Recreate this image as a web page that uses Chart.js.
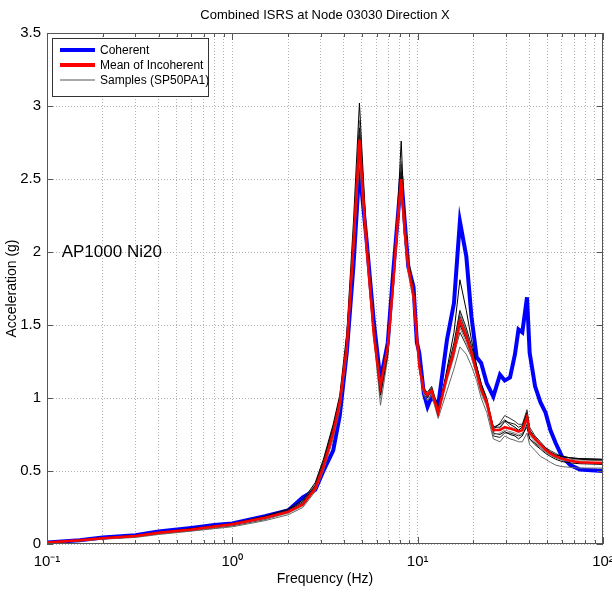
<!DOCTYPE html>
<html>
<head>
<meta charset="utf-8">
<title>Combined ISRS at Node 03030 Direction X</title>
<script src="https://cdn.jsdelivr.net/npm/chart.js@4.4.1/dist/chart.umd.min.js"></script>
<style>
  body { margin: 0; background: #fff; }
  #wrap { width: 612px; height: 593px; }
</style>
</head>
<body>
<div id="wrap"><canvas id="isrs-chart" width="612" height="593"></canvas></div>
<script>
// Frequency grid (Hz) shared by all curves
const freq = [0.1, 0.15, 0.2, 0.3, 0.4, 0.6, 0.8, 1.0, 1.5, 2.0,
    2.4, 2.8, 3.1, 3.5, 3.8, 4.15, 4.5, 4.85, 5.3, 5.8,
    6.3, 6.9, 7.4, 7.85, 8.15, 8.5, 8.9, 9.5, 9.9, 10.2,
    10.8, 11.3, 11.9, 12.9, 14.4, 15.7, 16.9, 18.3, 19.5, 20.8,
    22.0, 23.6, 25.6, 27.8, 29.5, 31.5, 33.5, 35.0, 36.7, 38.9,
    40.2, 43, 46, 49, 52, 55.6, 60, 66.6, 75, 100];

// Acceleration (g)
const coherent = [0.01, 0.025, 0.045, 0.06, 0.085, 0.11, 0.13, 0.14, 0.19, 0.23,
    0.32, 0.37, 0.50, 0.64, 0.88, 1.32, 1.9, 2.58, 2.08, 1.52,
    1.12, 1.38, 1.88, 2.27, 2.52, 2.22, 1.90, 1.76, 1.38, 1.31,
    1.03, 0.94, 1.01, 0.95, 1.40, 1.65, 2.21, 1.97, 1.56, 1.28,
    1.24, 1.10, 1.01, 1.16, 1.12, 1.14, 1.30, 1.47, 1.45, 1.69,
    1.31, 1.08, 0.97, 0.90, 0.78, 0.69, 0.60, 0.54, 0.51, 0.50];

const meanIncoherent = [0.01, 0.025, 0.04, 0.055, 0.077, 0.10, 0.12, 0.135, 0.18, 0.22,
    0.27, 0.38, 0.53, 0.76, 0.97, 1.36, 2.04, 2.77, 2.04, 1.43,
    1.08, 1.35, 1.81, 2.27, 2.50, 2.15, 1.90, 1.70, 1.42, 1.22,
    1.05, 1.02, 1.05, 0.90, 1.15, 1.32, 1.53, 1.42, 1.31, 1.18,
    1.06, 0.97, 0.78, 0.78, 0.80, 0.79, 0.78, 0.77, 0.78, 0.87,
    0.76, 0.72, 0.68, 0.645, 0.62, 0.60, 0.585, 0.57, 0.56, 0.555];

const sample1 = [0.01, 0.026, 0.042, 0.058, 0.08, 0.105, 0.125, 0.14, 0.19, 0.24,
    0.3, 0.42, 0.58, 0.82, 1.02, 1.45, 2.2, 3.02, 2.1, 1.45,
    1.02, 1.3, 1.85, 2.35, 2.76, 2.2, 1.95, 1.72, 1.45, 1.25,
    1.06, 1.0, 1.06, 0.88, 1.2, 1.45, 1.81, 1.6, 1.4, 1.22,
    1.1, 0.98, 0.8, 0.82, 0.85, 0.82, 0.8, 0.78, 0.8, 0.9,
    0.78, 0.72, 0.68, 0.65, 0.63, 0.61, 0.6, 0.59, 0.585, 0.58];
const sample2 = [0.008, 0.02, 0.033, 0.045, 0.065, 0.088, 0.105, 0.118, 0.16, 0.2,
    0.25, 0.36, 0.5, 0.72, 0.92, 1.3, 1.98, 2.62, 2.0, 1.42,
    0.95, 1.28, 1.76, 2.2, 2.42, 2.1, 1.85, 1.66, 1.38, 1.2,
    1.02, 0.98, 1.02, 0.86, 1.05, 1.2, 1.35, 1.3, 1.22, 1.12,
    1.0, 0.9, 0.72, 0.7, 0.74, 0.72, 0.71, 0.7, 0.7, 0.76,
    0.68, 0.64, 0.6, 0.58, 0.56, 0.54, 0.53, 0.525, 0.52, 0.52];
const sample3 = [0.012, 0.027, 0.043, 0.058, 0.08, 0.104, 0.124, 0.138, 0.185, 0.23,
    0.29, 0.4, 0.56, 0.8, 1.0, 1.4, 2.1, 2.85, 2.1, 1.48,
    1.12, 1.38, 1.84, 2.3, 2.55, 2.2, 1.95, 1.75, 1.46, 1.24,
    1.06, 1.04, 1.08, 0.93, 1.18, 1.38, 1.6, 1.48, 1.36, 1.22,
    1.1, 1.0, 0.8, 0.8, 0.84, 0.83, 0.82, 0.8, 0.81, 0.9,
    0.78, 0.73, 0.69, 0.66, 0.63, 0.61, 0.6, 0.59, 0.58, 0.575];
const sample4 = [0.01, 0.024, 0.038, 0.052, 0.072, 0.095, 0.112, 0.128, 0.17, 0.21,
    0.26, 0.37, 0.52, 0.75, 0.95, 1.33, 2.0, 2.7, 2.0, 1.4,
    1.0, 1.32, 1.78, 2.24, 2.45, 2.1, 1.88, 1.68, 1.4, 1.2,
    1.03, 1.0, 1.03, 0.88, 1.12, 1.28, 1.48, 1.38, 1.28, 1.15,
    1.03, 0.94, 0.75, 0.76, 0.78, 0.77, 0.76, 0.75, 0.76, 0.84,
    0.74, 0.7, 0.66, 0.63, 0.61, 0.59, 0.575, 0.565, 0.56, 0.555];
const sample5 = [0.011, 0.026, 0.041, 0.057, 0.079, 0.102, 0.122, 0.136, 0.18, 0.225,
    0.28, 0.4, 0.55, 0.78, 0.98, 1.38, 2.06, 2.8, 2.08, 1.46,
    1.06, 1.36, 1.82, 2.28, 2.6, 2.18, 1.92, 1.72, 1.44, 1.24,
    1.07, 1.03, 1.07, 0.91, 1.16, 1.34, 1.56, 1.45, 1.32, 1.2,
    1.08, 0.98, 0.78, 0.83, 0.88, 0.86, 0.84, 0.82, 0.82, 0.92,
    0.8, 0.74, 0.7, 0.66, 0.64, 0.62, 0.6, 0.59, 0.585, 0.58];
const sample6 = [0.009, 0.022, 0.036, 0.05, 0.07, 0.092, 0.11, 0.125, 0.168, 0.215,
    0.27, 0.39, 0.54, 0.76, 0.96, 1.36, 2.02, 2.72, 2.04, 1.44,
    1.04, 1.33, 1.8, 2.26, 2.5, 2.14, 1.9, 1.7, 1.42, 1.22,
    1.04, 1.01, 1.05, 0.9, 1.14, 1.3, 1.5, 1.4, 1.3, 1.17,
    1.05, 0.96, 0.76, 0.75, 0.77, 0.75, 0.74, 0.72, 0.74, 0.82,
    0.72, 0.68, 0.65, 0.62, 0.6, 0.58, 0.565, 0.555, 0.55, 0.545];
const sample7 = [0.01, 0.025, 0.04, 0.056, 0.078, 0.1, 0.12, 0.134, 0.182, 0.228,
    0.29, 0.41, 0.57, 0.8, 0.99, 1.4, 2.1, 2.9, 2.12, 1.5,
    1.08, 1.36, 1.84, 2.3, 2.62, 2.22, 1.96, 1.74, 1.45, 1.23,
    1.05, 1.02, 1.06, 0.9, 1.17, 1.36, 1.58, 1.46, 1.34, 1.2,
    1.07, 0.97, 0.77, 0.79, 0.84, 0.8, 0.79, 0.78, 0.8, 0.88,
    0.76, 0.71, 0.67, 0.64, 0.62, 0.6, 0.59, 0.58, 0.575, 0.57];
const sample8 = [0.01, 0.023, 0.039, 0.054, 0.075, 0.098, 0.116, 0.13, 0.176, 0.22,
    0.28, 0.39, 0.53, 0.77, 0.97, 1.36, 2.04, 2.76, 2.02, 1.42,
    1.05, 1.34, 1.8, 2.26, 2.48, 2.12, 1.88, 1.7, 1.42, 1.22,
    1.05, 1.01, 1.04, 0.89, 1.14, 1.3, 1.45, 1.36, 1.28, 1.16,
    1.05, 0.95, 0.74, 0.73, 0.76, 0.76, 0.75, 0.74, 0.75, 0.8,
    0.72, 0.69, 0.66, 0.63, 0.61, 0.59, 0.575, 0.565, 0.56, 0.555];

const samples = [sample1, sample2, sample3, sample4, sample5, sample6, sample7, sample8];
const sampleColors = ["#000000", "#666666", "#111111", "#888888", "#333333", "#000000", "#777777", "#222222"];

// Tick positions and labels
const xTicks = [0.1, 0.2, 0.3, 0.4, 0.5, 0.6, 0.7, 0.8, 0.9,
    1, 2, 3, 4, 5, 6, 7, 8, 9,
    10, 20, 30, 40, 50, 60, 70, 80, 90, 100];
const xTickLabels = { 0.1: "10\u207B\u00B9", 1: "10\u2070", 10: "10\u00B9", 100: "10\u00B2" };
const yTicks = [0, 0.5, 1, 1.5, 2, 2.5, 3, 3.5];

const noteText = "AP1000 Ni20";
const noteFreq = 0.12;
const noteAcc = 2.0;

const FONT = "'Liberation Sans', Arial, sans-serif";

const toPoints = (values) => freq.map((f, i) => ({ x: f, y: values[i] }));

const datasets = [
    {
        label: "Mean of Incoherent",
        data: toPoints(meanIncoherent),
        borderColor: "#ff0000",
        borderWidth: 2.5,
        order: 0,
    },
];
samples.forEach((s, i) => {
    datasets.push({
        label: "Samples (SP50PA1)",
        data: toPoints(s),
        borderColor: sampleColors[i],
        borderWidth: 1,
        order: 1,
    });
});
datasets.push({
    label: "Coherent",
    data: toPoints(coherent),
    borderColor: "#0000ff",
    borderWidth: 4,
    order: 2,
});

// Frame, inward ticks, legend box, title and note (MATLAB look)
const matlabFrame = {
    id: "matlabFrame",
    afterDatasetsDraw(chart) {
        const { ctx, chartArea: a, scales } = chart;
        const xs = scales.x, ys = scales.y;
        ctx.save();

        ctx.strokeStyle = "#555";
        ctx.lineWidth = 1;
        ctx.strokeRect(a.left + 0.5, a.top + 0.5, a.right - a.left - 1, a.bottom - a.top - 1);

        ctx.beginPath();
        xTicks.forEach((v) => {
            const px = Math.round(xs.getPixelForValue(v)) + 0.5;
            const len = xTickLabels[v] ? 7 : 4;
            ctx.moveTo(px, a.bottom); ctx.lineTo(px, a.bottom - len);
            ctx.moveTo(px, a.top); ctx.lineTo(px, a.top + len);
        });
        yTicks.forEach((v) => {
            const py = Math.round(ys.getPixelForValue(v)) + 0.5;
            ctx.moveTo(a.left, py); ctx.lineTo(a.left + 6, py);
            ctx.moveTo(a.right, py); ctx.lineTo(a.right - 6, py);
        });
        ctx.stroke();

        // legend
        const lx = a.left + 5, ly = a.top + 5;
        ctx.fillStyle = "#fff";
        ctx.fillRect(lx, ly, 156, 58);
        ctx.strokeStyle = "#333";
        ctx.strokeRect(lx + 0.5, ly + 0.5, 156, 58);
        const entries = [datasets[datasets.length - 1], datasets[0], datasets[1]];
        ctx.font = "12px " + FONT;
        ctx.textBaseline = "middle";
        ctx.textAlign = "left";
        entries.forEach((d, i) => {
            const y = ly + 12 + i * 15;
            ctx.beginPath();
            ctx.strokeStyle = i === 2 ? "#555" : d.borderColor;
            ctx.lineWidth = i === 2 ? 1 : 4;
            ctx.moveTo(lx + 8, y); ctx.lineTo(lx + 43, y);
            ctx.stroke();
            ctx.fillStyle = "#000";
            ctx.fillText(d.label, lx + 48, y + 1);
        });

        // note
        ctx.font = "17px " + FONT;
        ctx.fillText(noteText, xs.getPixelForValue(noteFreq), ys.getPixelForValue(noteAcc));

        // title
        ctx.font = "13px " + FONT;
        ctx.textAlign = "center";
        ctx.fillText("Combined ISRS at Node 03030 Direction X", (a.left + a.right) / 2, 15);
        ctx.restore();
    },
};

const chart = new Chart(document.getElementById("isrs-chart"), {
    type: "line",
    data: { datasets: datasets },
    options: {
        responsive: false,
        animation: false,
        layout: { padding: { top: 33, right: 9, left: 0, bottom: 0 } },
        elements: { point: { radius: 0 }, line: { tension: 0 } },
        plugins: { legend: { display: false }, tooltip: { enabled: false } },
        scales: {
            x: {
                type: "logarithmic",
                min: 0.1,
                max: 100,
                afterBuildTicks: (scale) => { scale.ticks = xTicks.map((v) => ({ value: v })); },
                afterFit: (scale) => {
                    scale.height = 49;
                    scale.paddingLeft = 0;
                    scale.paddingRight = 0;
                },
                grid: { color: "#b0b0b0", drawTicks: false },
                border: { display: false, dash: [1, 2] },
                ticks: {
                    autoSkip: false,
                    maxRotation: 0,
                    padding: 9,
                    color: "#000",
                    font: { family: FONT, size: 15 },
                    callback: (value) => xTickLabels[value] || "",
                },
                title: {
                    display: true,
                    text: "Frequency (Hz)",
                    color: "#000",
                    font: { family: FONT, size: 14 },
                    padding: { top: 0, bottom: 5 },
                },
            },
            y: {
                min: 0,
                max: 3.5,
                afterBuildTicks: (scale) => { scale.ticks = yTicks.map((v) => ({ value: v })); },
                afterFit: (scale) => {
                    scale.width = 47;
                    scale.paddingTop = 0;
                    scale.paddingBottom = 0;
                },
                grid: { color: "#b0b0b0", drawTicks: false },
                border: { display: false, dash: [1, 2] },
                ticks: {
                    padding: 6,
                    color: "#000",
                    font: { family: FONT, size: 15 },
                    callback: (value) => String(value),
                },
                title: {
                    display: true,
                    text: "Acceleration (g)",
                    color: "#000",
                    font: { family: FONT, size: 14 },
                    padding: { top: 4, bottom: 0 },
                },
            },
        },
    },
    plugins: [matlabFrame],
});
</script>
</body>
</html>
